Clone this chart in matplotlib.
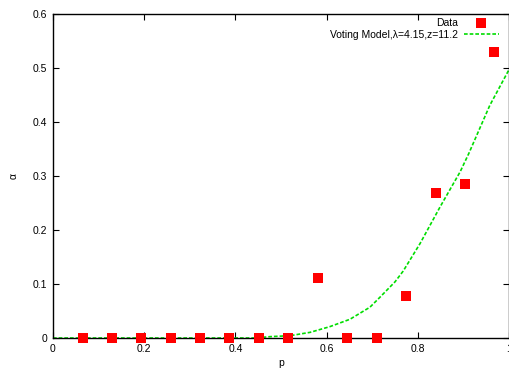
import matplotlib
matplotlib.use('Agg')
from matplotlib import pyplot as plt

plt.rcParams['font.family'] = ['Liberation Sans', 'DejaVu Sans']
plt.rcParams['font.size'] = 7.5

# measured data
p_data = [0.065, 0.129, 0.194, 0.258, 0.323, 0.387, 0.452, 0.516,
          0.581, 0.645, 0.710, 0.774, 0.839, 0.903, 0.968]
alpha_data = [0, 0, 0, 0, 0, 0, 0, 0,
              0.112, 0, 0, 0.078, 0.268, 0.285, 0.530]

# voting model curve
p_model = [0.0, 0.44, 0.476, 0.520, 0.564, 0.607, 0.651, 0.695, 0.717,
           0.750, 0.768, 0.805, 0.849, 0.893, 0.912, 0.958, 1.0]
alpha_model = [0.0, 0.0, 0.0025, 0.0043, 0.0105, 0.021, 0.0346, 0.057, 0.0755,
               0.104, 0.124, 0.175, 0.243, 0.308, 0.342, 0.431, 0.497]

fig = plt.figure(figsize=(5.1, 3.7), dpi=100)
ax = fig.add_axes([53/510, 32/370, 456/510, 324/370])

ax.plot(p_data, alpha_data, 's', color='#ff0000', markersize=7.3,
        markeredgewidth=0, clip_on=False, label='Data', zorder=3)
ax.plot(p_model, alpha_model, color='#00dd00', lw=1.2, dashes=(2.2, 1.2),
        label='Voting Model,\u03bb=4.15,z=11.2')

ax.set_xlim(0, 1)
ax.set_ylim(0, 0.6)
ax.set_xticks([0, 0.2, 0.4, 0.6, 0.8, 1])
ax.set_xticklabels(['0', '0.2', '0.4', '0.6', '0.8', '1'])
ax.set_yticks([0, 0.1, 0.2, 0.3, 0.4, 0.5, 0.6])
ax.set_yticklabels(['0', '0.1', '0.2', '0.3', '0.4', '0.5', '0.6'])
ax.tick_params(direction='in', top=True, right=True, length=4, width=0.8,
               pad=4, labelsize=7.5)
for s in ax.spines.values():
    s.set_linewidth(1.0)

ax.set_xlabel('p', labelpad=3)
ax.set_ylabel('\u03b1', labelpad=10)

ax.legend(loc='upper right', bbox_to_anchor=(1.0, 1.0 + 6/324),
          frameon=False, markerfirst=False,
          fontsize=7.5, handlelength=3.3, handletextpad=0.6, labelspacing=0.12,
          borderaxespad=0.6)

fig.savefig('out.png', dpi=100)
